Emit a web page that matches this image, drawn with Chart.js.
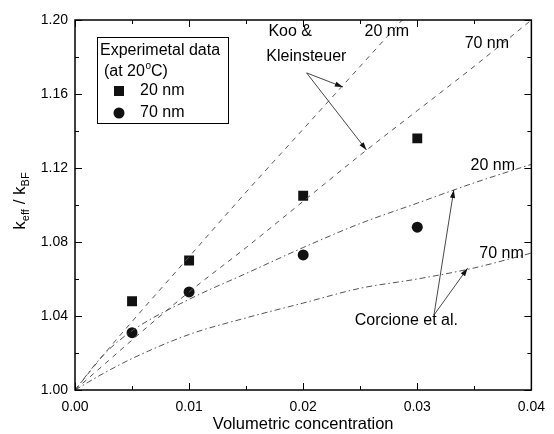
<!DOCTYPE html>
<html lang="en">
<head>
<meta charset="UTF-8" />
<title>keff / kBF</title>
<script src="https://cdn.jsdelivr.net/npm/chart.js"></script>
<style>
  body { margin: 0; background: #fff; }
  #wrap { width: 554px; height: 434px; }
</style>
</head>
<body>
<div id="wrap"><canvas id="chart" width="554" height="434"></canvas></div>
<script>
// experimental points
const conc = [0.005, 0.01, 0.02, 0.03];
const exp20 = [1.048, 1.070, 1.105, 1.136];
const exp70 = [1.031, 1.053, 1.073, 1.088];

// model curves
const modelX = [0, 0.0025, 0.005, 0.01, 0.015, 0.02, 0.025, 0.03, 0.035, 0.04];
const koo20 = [1, 1.019, 1.037, 1.072, 1.107, 1.141, 1.175, 1.209, null, null];
const koo70 = [1, 1.0135, 1.027, 1.053, 1.077, 1.102, 1.127, 1.151, 1.175, 1.2];
const corc20 = [1, 1.019, 1.032, 1.049, 1.063, 1.077, 1.090, 1.101, 1.112, 1.122];
const corc70 = [1, 1.009, 1.017, 1.030, 1.039, 1.047, 1.055, 1.060, 1.066, 1.074];

const xTicks = [0, 0.01, 0.02, 0.03, 0.04];
const xMinor = [0.005, 0.015, 0.025, 0.035];
const yTicks = [1.00, 1.04, 1.08, 1.12, 1.16, 1.20];
const yMinor = [1.02, 1.06, 1.10, 1.14, 1.18];

// text labels in data units [text, x, y]
const notes = [
  ["Koo &", 0.01695, 1.1935],
  ["Kleinsteuer", 0.01677, 1.1800],
  ["20 nm", 0.02538, 1.1935],
  ["70 nm", 0.03415, 1.1870],
  ["20 nm", 0.03467, 1.1211],
  ["70 nm", 0.03544, 1.0740],
  ["Corcione et al.", 0.02452, 1.0373]
];
// arrows [fromX, fromY, toX, toY]
const arrows = [
  [0.0203, 1.1714, 0.02348, 1.1638],
  [0.0203, 1.1714, 0.02555, 1.1297],
  [0.03146, 1.0405, 0.03320, 1.1081],
  [0.03146, 1.0405, 0.03441, 1.0658]
];

const FONT = '"Liberation Sans", Arial, sans-serif';
const pts = (xs, ys) => xs.map((x, i) => ({ x: x, y: ys[i] }));

function curve(label, ys, dash) {
  return {
    label: label,
    data: pts(modelX, ys),
    showLine: true,
    borderColor: "#555",
    borderWidth: 1,
    borderDash: dash,
    cubicInterpolationMode: "monotone",
    pointRadius: 0,
    fill: false
  };
}

function arrowHead(ctx, x1, y1, x2, y2) {
  const a = Math.atan2(y2 - y1, x2 - x1);
  const L = 8, W = 2.6;
  ctx.beginPath();
  ctx.moveTo(x2, y2);
  ctx.lineTo(x2 - L * Math.cos(a) + W * Math.sin(a), y2 - L * Math.sin(a) - W * Math.cos(a));
  ctx.lineTo(x2 - L * Math.cos(a) - W * Math.sin(a), y2 - L * Math.sin(a) + W * Math.cos(a));
  ctx.closePath();
  ctx.fill();
}

const decor = {
  id: "decor",
  afterDraw(chart) {
    const ctx = chart.ctx;
    const xs = chart.scales.x, ys = chart.scales.y;
    const a = chart.chartArea;
    ctx.save();

    // frame
    ctx.strokeStyle = "#000";
    ctx.lineWidth = 1.5;
    ctx.strokeRect(a.left, a.top, a.right - a.left, a.bottom - a.top);

    // inward ticks on all four sides
    ctx.lineWidth = 1;
    ctx.beginPath();
    const tickX = (v, len) => {
      const p = Math.round(xs.getPixelForValue(v)) + 0.5;
      ctx.moveTo(p, a.bottom); ctx.lineTo(p, a.bottom - len);
      ctx.moveTo(p, a.top); ctx.lineTo(p, a.top + len);
    };
    const tickY = (v, len) => {
      const p = Math.round(ys.getPixelForValue(v)) + 0.5;
      ctx.moveTo(a.left, p); ctx.lineTo(a.left + len, p);
      ctx.moveTo(a.right, p); ctx.lineTo(a.right - len, p);
    };
    xTicks.forEach(v => tickX(v, 7));
    xMinor.forEach(v => tickX(v, 4));
    yTicks.forEach(v => tickY(v, 7));
    yMinor.forEach(v => tickY(v, 4));
    ctx.stroke();

    // y title with subscripts
    ctx.save();
    ctx.translate(25, 201);
    ctx.rotate(-Math.PI / 2);
    ctx.fillStyle = "#000";
    ctx.textBaseline = "alphabetic";
    const parts = [["k", 17, 0], ["eff", 11, 4], [" / k", 17, 0], ["BF", 11, 4]];
    let total = 0;
    parts.forEach(p => { ctx.font = p[1] + "px " + FONT; total += ctx.measureText(p[0]).width; });
    let cx = -total / 2;
    parts.forEach(p => {
      ctx.font = p[1] + "px " + FONT;
      ctx.fillText(p[0], cx, p[2]);
      cx += ctx.measureText(p[0]).width;
    });
    ctx.restore();

    // legend box
    ctx.strokeStyle = "#000";
    ctx.lineWidth = 1;
    ctx.strokeRect(97.5, 37.5, 131, 86);
    ctx.fillStyle = "#000";
    ctx.textBaseline = "middle";
    ctx.font = "16px " + FONT;
    ctx.fillText("Experimetal data", 100, 51);
    let lx = 104;
    ctx.fillText("(at 20", lx, 72);
    lx += ctx.measureText("(at 20").width;
    ctx.font = "10px " + FONT;
    ctx.fillText("o", lx + 0.5, 66);
    lx += ctx.measureText("o").width + 0.5;
    ctx.font = "16px " + FONT;
    ctx.fillText("C)", lx, 72);
    ctx.fillStyle = "#111";
    ctx.fillRect(114, 86, 10, 10);
    ctx.beginPath();
    ctx.arc(119, 113, 5.5, 0, Math.PI * 2);
    ctx.fill();
    ctx.fillStyle = "#000";
    ctx.fillText("20 nm", 140, 91);
    ctx.fillText("70 nm", 140, 113);

    // annotations
    ctx.font = "16px " + FONT;
    notes.forEach(n => ctx.fillText(n[0], xs.getPixelForValue(n[1]), ys.getPixelForValue(n[2])));

    ctx.strokeStyle = "#333";
    ctx.fillStyle = "#111";
    ctx.lineWidth = 0.9;
    arrows.forEach(r => {
      const x1 = xs.getPixelForValue(r[0]), y1 = ys.getPixelForValue(r[1]);
      const x2 = xs.getPixelForValue(r[2]), y2 = ys.getPixelForValue(r[3]);
      ctx.beginPath();
      ctx.moveTo(x1, y1); ctx.lineTo(x2, y2);
      ctx.stroke();
      arrowHead(ctx, x1, y1, x2, y2);
    });

    ctx.restore();
  }
};

new Chart(document.getElementById("chart"), {
  type: "scatter",
  data: {
    datasets: [
      curve("Koo 20 nm", koo20, [5, 5]),
      curve("Koo 70 nm", koo70, [5, 5]),
      curve("Corcione 20 nm", corc20, [6, 3, 1.5, 3]),
      curve("Corcione 70 nm", corc70, [6, 3, 1.5, 3]),
      {
        label: "20 nm",
        data: pts(conc, exp20),
        pointStyle: "rect",
        pointRadius: 7,
        backgroundColor: "#111",
        borderColor: "#111",
        borderWidth: 0
      },
      {
        label: "70 nm",
        data: pts(conc, exp70),
        pointStyle: "circle",
        pointRadius: 5.5,
        backgroundColor: "#111",
        borderColor: "#111",
        borderWidth: 0
      }
    ]
  },
  options: {
    responsive: false,
    animation: false,
    layout: { padding: { top: 20, right: 14, left: 0, bottom: 0 } },
    plugins: { legend: { display: false }, tooltip: { enabled: false } },
    scales: {
      x: {
        type: "linear",
        min: 0,
        max: 0.04,
        afterBuildTicks: s => { s.ticks = xTicks.map(v => ({ value: v })); },
        afterFit: s => { s.height = 44; },
        grid: { display: false, drawTicks: false },
        border: { display: false },
        ticks: {
          padding: 9,
          color: "#000",
          font: { family: FONT, size: 14 },
          callback: v => v.toFixed(2)
        },
        title: {
          display: true,
          text: "Volumetric concentration",
          color: "#000",
          font: { family: FONT, size: 16.5 },
          padding: { top: 2, bottom: 0 }
        }
      },
      y: {
        type: "linear",
        min: 1.0,
        max: 1.2,
        afterBuildTicks: s => { s.ticks = yTicks.map(v => ({ value: v })); },
        afterFit: s => { s.width = 75; },
        grid: { display: false, drawTicks: false },
        border: { display: false },
        ticks: {
          padding: 7,
          color: "#000",
          font: { family: FONT, size: 14 },
          callback: v => v.toFixed(2)
        }
      }
    }
  },
  plugins: [decor]
});
</script>
</body>
</html>
